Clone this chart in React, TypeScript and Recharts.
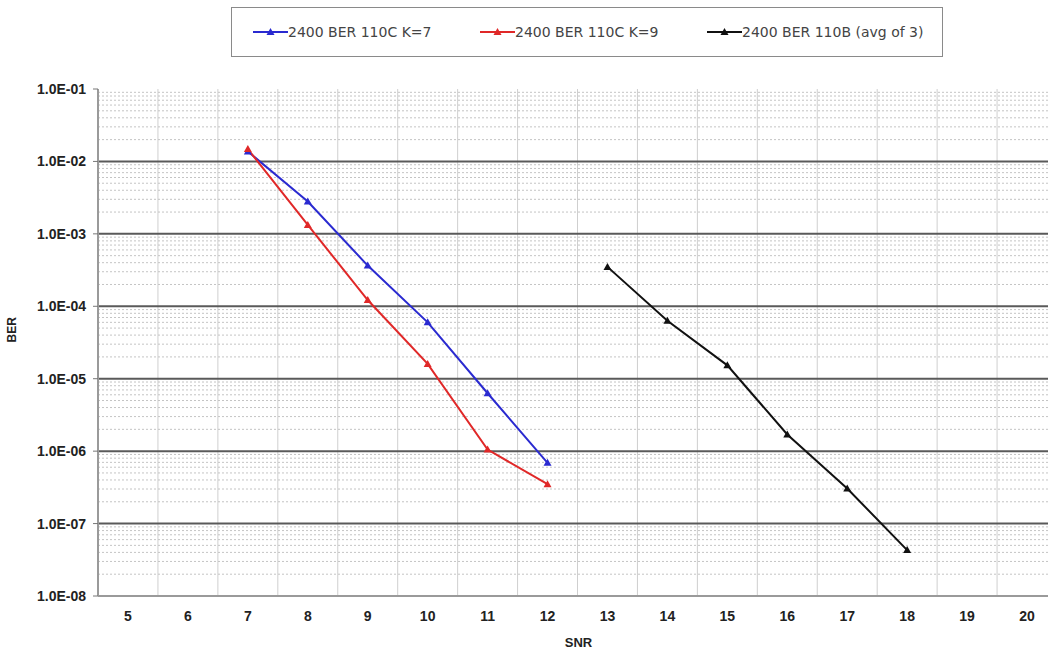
import { LineChart, Line, XAxis, YAxis, ReferenceLine, Label } from 'recharts';

const snrTicks = [5, 6, 7, 8, 9, 10, 11, 12, 13, 14, 15, 16, 17, 18, 19, 20];
const decadeTicks = [1e-8, 1e-7, 1e-6, 1e-5, 1e-4, 1e-3, 1e-2, 1e-1];

const snrK7 = [7, 8, 9, 10, 11, 12];
const berK7 = [1.37e-2, 2.8e-3, 3.65e-4, 6.0e-5, 6.3e-6, 6.9e-7];

const snrK9 = [7, 8, 9, 10, 11, 12];
const berK9 = [1.48e-2, 1.33e-3, 1.22e-4, 1.6e-5, 1.05e-6, 3.5e-7];

const snr110B = [13, 14, 15, 16, 17, 18];
const ber110B = [3.5e-4, 6.3e-5, 1.53e-5, 1.7e-6, 3.05e-7, 4.3e-8];

const SERIES = [
  { key: 'k7', name: '2400 BER 110C K=7', color: '#2a2ad0', snr: snrK7, ber: berK7 },
  { key: 'k9', name: '2400 BER 110C K=9', color: '#e02828', snr: snrK9, ber: berK9 },
  { key: 'b', name: '2400 BER 110B (avg of 3)', color: '#111111', snr: snr110B, ber: ber110B },
];

const data = snrTicks.map((s) => {
  const row: any = { snr: s };
  SERIES.forEach((ser) => {
    const i = ser.snr.indexOf(s);
    if (i >= 0) row[ser.key] = ser.ber[i];
  });
  return row;
});

// minor gridlines 2..9 x 10^n inside each decade
const minorTicks: number[] = [];
decadeTicks.slice(0, -1).forEach((d) => {
  for (let k = 2; k <= 9; k++) minorTicks.push(d * k);
});
const bandEdges = snrTicks.map((s) => s - 0.5).concat([snrTicks[snrTicks.length - 1] + 0.5]);

const fmtBer = (v: number) => {
  const e = -Math.round(Math.log10(v));
  return `1.0E-${String(e).padStart(2, '0')}`;
};

const triangle = (color: string) => (p: any) => {
  if (p.cx == null || p.cy == null || p.value == null) return <g key={p.key ?? p.index} />;
  return (
    <path
      key={p.key ?? p.index}
      d={`M${p.cx},${p.cy - 4}L${p.cx + 4},${p.cy + 3}L${p.cx - 4},${p.cy + 3}Z`}
      fill={color}
    />
  );
};

const tickFont = { fontFamily: 'Liberation Sans, Arial, sans-serif', fontSize: 14, fontWeight: 700, fill: '#222' };

const legendX = [21, 248, 475];

const LegendBox = () => (
  <div
    style={{
      position: 'absolute',
      left: 231,
      top: 7,
      width: 712,
      height: 50,
      border: '1px solid #8a8a8a',
      fontFamily: 'DejaVu Sans, sans-serif',
      fontSize: 14,
      color: '#444',
      boxSizing: 'border-box',
    }}
  >
    {SERIES.map((s, i) => (
      <div key={s.key} style={{ position: 'absolute', left: legendX[i], top: 16, display: 'flex', alignItems: 'center' }}>
        <svg width={35} height={10}>
          <line x1={0} y1={5} x2={35} y2={5} stroke={s.color} strokeWidth={2} />
          <path d="M17.5,1L21.5,8L13.5,8Z" fill={s.color} />
        </svg>
        <span style={{ whiteSpace: 'nowrap' }}>{s.name}</span>
      </div>
    ))}
  </div>
);

export default function App() {
  return (
    <div style={{ position: 'absolute', left: 0, top: 0, width: 1048, height: 652, overflow: 'hidden', background: '#fff' }}>
      <LegendBox />
      <LineChart width={1070} height={652} data={data} margin={{ top: 89, right: 13, bottom: 0, left: 0 }}>
        {bandEdges.map((x) => (
          <ReferenceLine key={`v${x}`} x={x} stroke="#cfcfcf" strokeWidth={1} />
        ))}
        {minorTicks.map((y) => (
          <ReferenceLine key={`m${y}`} y={y} stroke="#c4c4c4" strokeWidth={1} strokeDasharray="2 2" />
        ))}
        {decadeTicks.slice(1, -1).map((y) => (
          <ReferenceLine key={`d${y}`} y={y} stroke="#5a5a5a" strokeWidth={2} />
        ))}
        <XAxis
          dataKey="snr"
          type="number"
          domain={[bandEdges[0], bandEdges[bandEdges.length - 1]]}
          ticks={snrTicks}
          tickLine={false}
          axisLine={{ stroke: '#9a9a9a', strokeWidth: 2 }}
          tick={tickFont}
          tickMargin={9}
          height={56}
          allowDataOverflow
        >
          <Label value="SNR" position="insideBottom" offset={5} style={{ ...tickFont, fontSize: 13 }} dx={1} />
        </XAxis>
        <YAxis
          type="number"
          scale="log"
          domain={[1e-8, 1e-1]}
          ticks={decadeTicks}
          tickFormatter={fmtBer}
          tick={tickFont}
          tickLine={{ stroke: '#777' }}
          tickSize={5}
          tickMargin={7}
          axisLine={{ stroke: '#9a9a9a', strokeWidth: 2 }}
          width={98}
          allowDataOverflow
        >
          <Label value="BER" angle={-90} position="insideLeft" offset={12} style={{ ...tickFont, fontSize: 12 }} />
        </YAxis>
        {SERIES.map((s) => (
          <Line
            key={s.key}
            dataKey={s.key}
            name={s.name}
            stroke={s.color}
            strokeWidth={2}
            dot={triangle(s.color)}
            activeDot={false}
            isAnimationActive={false}
          />
        ))}
      </LineChart>
    </div>
  );
}
